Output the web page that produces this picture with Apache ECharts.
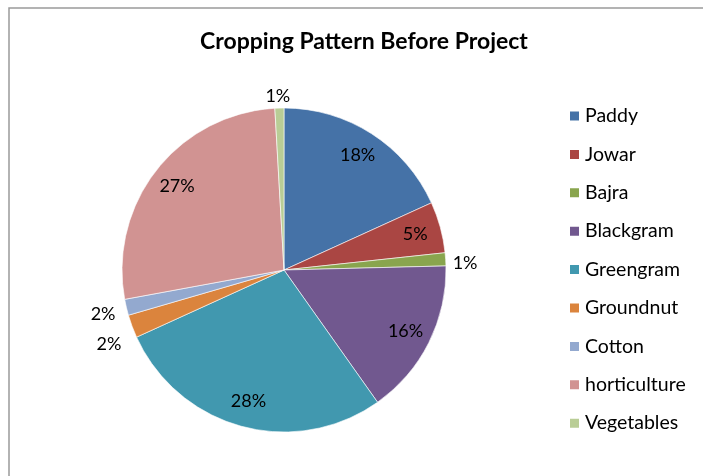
<!DOCTYPE html>
<html>
<head>
<meta charset="utf-8">
<script src="https://cdn.jsdelivr.net/npm/echarts@6/dist/echarts.min.js"></script>
<style>
html,body{margin:0;padding:0;background:#fff;}
#chart{width:703px;height:476px;}
</style>
</head>
<body>
<div id="chart"></div>
<script>
var categories = ['Paddy','Jowar','Bajra','Blackgram','Greengram','Groundnut','Cotton','horticulture','Vegetables'];
var shares = [18.2, 5.1, 1.3, 15.6, 28.0, 2.3, 1.6, 27.0, 0.9];
var colors = ['#4572A7','#AA4643','#89A54E','#71588F','#4198AF','#DB843D','#93A9CF','#D19392','#B9CD96'];
var insideLabel = [true, true, false, true, true, false, false, true, false];

var total = shares.reduce(function(a,b){return a+b;},0);
function pct(v){ return Math.round(v/total*100) + '%'; }

var FONT = 'Lato, "Open Sans", sans-serif';

var mainData = categories.map(function(c,i){
  return {
    name: c, value: shares[i],
    itemStyle: {color: colors[i]},
    label: {show: !insideLabel[i]}
  };
});
var labelData = categories.map(function(c,i){
  return {
    name: c, value: shares[i],
    itemStyle: {color: 'rgba(0,0,0,0)'},
    label: {show: insideLabel[i]}
  };
});

// small nudges for outside labels, as Excel places them
var labelNudge = {2: [-4, 4], 5: [0, 16], 6: [0, 5], 8: [16, -6]};

var chart = echarts.init(document.getElementById('chart'), null, {renderer:'canvas'});
chart.setOption({
  backgroundColor: '#fff',
  animation: false,
  graphic: [{
    type: 'rect', silent: true,
    shape: {x: 9, y: 8, width: 900, height: 700},
    style: {fill: 'none', stroke: '#9a9a9a', lineWidth: 1.5}
  }],
  title: {
    text: 'Cropping Pattern Before Project',
    left: 359, top: 25, textAlign: 'center',
    textStyle: {fontFamily: FONT, fontWeight: 'bold', fontSize: 23, color: '#000'}
  },
  legend: {
    orient: 'vertical',
    left: 563, top: 101,
    icon: 'rect', itemWidth: 11, itemHeight: 11, itemGap: 18.4,
    data: categories,
    textStyle: {fontFamily: FONT, fontSize: 19.5, lineHeight: 20, color: '#000'}
  },
  series: [{
    type: 'pie',
    center: [284, 270],
    radius: [0, 162],
    startAngle: 90,
    clockwise: true,
    avoidLabelOverlap: false,
    data: mainData,
    itemStyle: {borderColor: '#fff', borderWidth: 0.6},
    label: {
      position: 'outside',
      formatter: function(p){ return pct(p.value); },
      fontFamily: FONT, fontSize: 18, color: '#000'
    },
    labelLine: {show: false, length: 6, length2: 0},
    labelLayout: function(params){
      var n = labelNudge[params.dataIndex];
      return n ? {dx: n[0], dy: n[1]} : {};
    },
    emphasis: {disabled: true}
  },{
    type: 'pie',
    center: [284, 270],
    radius: [114, 152],
    startAngle: 90,
    clockwise: true,
    silent: true,
    data: labelData,
    label: {
      position: 'inside',
      formatter: function(p){ return pct(p.value); },
      fontFamily: FONT, fontSize: 18, color: '#000'
    },
    labelLine: {show: false},
    emphasis: {disabled: true},
    legendHoverLink: false
  }]
});
</script>
</body>
</html>
